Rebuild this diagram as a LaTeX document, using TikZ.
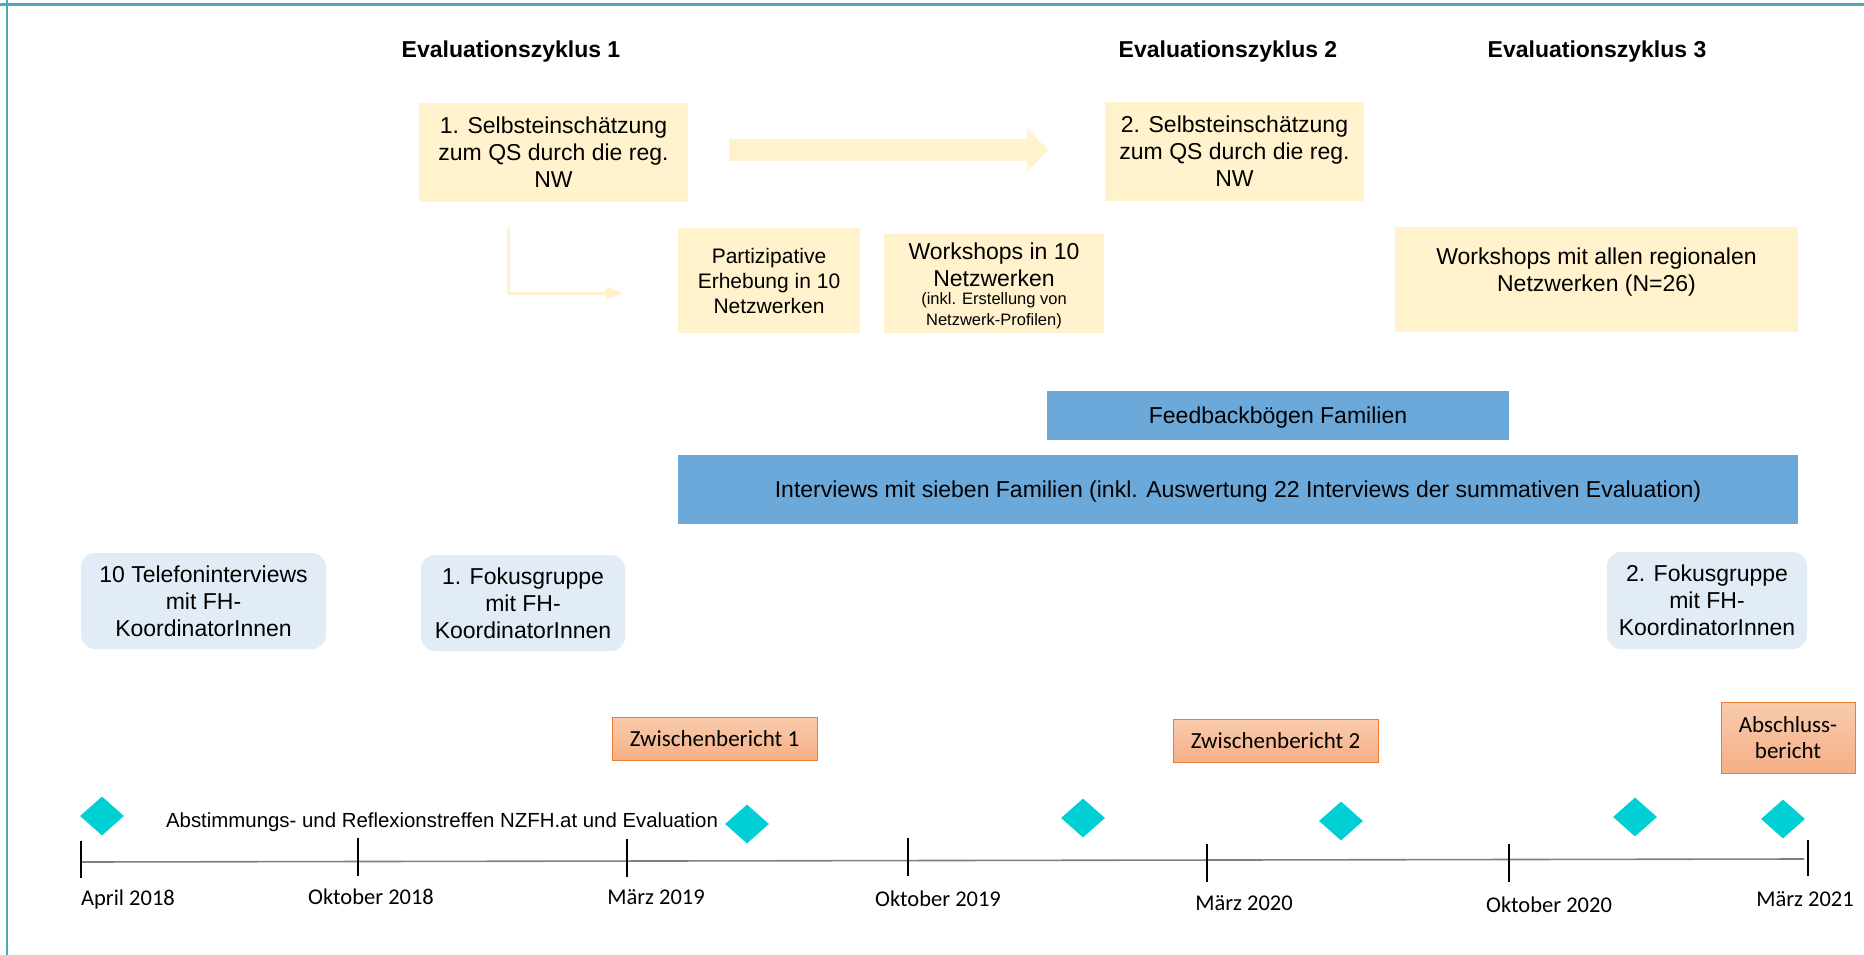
\documentclass[tikz,border=0pt]{standalone}
\usepackage{fontspec}
\setmainfont{Liberation Sans}
\newfontfamily\calibfont{Carlito}
\usetikzlibrary{shapes.geometric,arrows.meta}
\definecolor{ylw}{HTML}{FFF2CC}
\definecolor{blu}{HTML}{6CA9DB}
\definecolor{lblu}{HTML}{E2ECF7}
\definecolor{orT}{HTML}{F9CBAD}
\definecolor{orB}{HTML}{F5AF86}
\definecolor{orD}{HTML}{ED7D31}
\definecolor{turq}{HTML}{00CFD4}
\definecolor{framec}{HTML}{4FA9B9}
\definecolor{axisc}{HTML}{808080}
\begin{document}
\begin{tikzpicture}[x=1pt,y=-1pt,
 txt/.style={font=\fontsize{23}{27}\selectfont, align=center, text=black},
 ybox/.style={txt, fill=ylw, inner sep=0pt},
 bbox/.style={txt, fill=blu, inner sep=0pt},
 rbox/.style={txt, fill=lblu, rounded corners=14pt, inner sep=0pt},
 obox/.style={font=\calibfont\fontsize{23}{26}\selectfont, align=center, top color=orT, bottom color=orB, draw=orD, line width=1pt, inner sep=0pt},
 ttl/.style={font=\bfseries\fontsize{23}{27}\selectfont},
 dia/.style={diamond, fill=turq, inner sep=0pt, minimum width=44pt, minimum height=39pt},
 tickln/.style={line width=2pt, black},
 dlab/.style={font=\calibfont\fontsize{22.5}{26}\selectfont, text=black},
]
\useasboundingbox (0,0) rectangle (1864,955);
\fill[white] (0,0) rectangle (1864,955);
\draw[framec, line width=3pt] (0,5) -- (1864,5);
\draw[framec, line width=2.5pt] (7,0) -- (7,955);

% titles
\node[ttl] (t1) at (511,52) {Evaluationszyklus 1};
\node[ttl] (t2) at (1228,52) {Evaluationszyklus 2};
\node[ttl] (t3) at (1597,52) {Evaluationszyklus 3};

% yellow boxes
\node[ybox, minimum width=269pt, minimum height=99pt] (s1) at (553.5,152.5) {1. Selbsteinschätzung\\zum QS durch die reg.\\NW};
\node[ybox, minimum width=259pt, minimum height=99pt] (s2) at (1234.5,151.5) {2. Selbsteinschätzung\\zum QS durch die reg.\\NW};
\node[ybox, font=\fontsize{21}{25}\selectfont, minimum width=182pt, minimum height=105pt] (part) at (769,280.5) {Partizipative\\Erhebung in 10\\Netzwerken};
\node[ybox, minimum width=220pt, minimum height=99pt] (ws10) at (994,283.5) {};
\node[txt] (ws10a) at (994,264.5) {Workshops in 10\\Netzwerken};
\node[txt, font=\fontsize{16.5}{21}\selectfont] (ws10b) at (994,311) {(inkl. Erstellung von\\Netzwerk-Profilen)};
\node[ybox, minimum width=403pt, minimum height=105pt] (wsall) at (1596.5,279.5) {};
\node[txt] (wsalltxt) at (1596.5,272.5) {Workshops mit allen regionalen\\Netzwerken (N=26)};

% big arrow
\coordinate (ba) at (729,150);
\coordinate (bb) at (1048,150);
\fill[ylw] (ba) ++(0,-11) -- ++(298,0) -- ++(0,-11) -- (bb) -- ++(-21,22) -- ++(0,-11) -- ++(-298,0) -- cycle;

% L arrow
\coordinate (la) at (508,228);
\coordinate (lb) at (624,293);
\draw[ylw, line width=3pt, -{Triangle[length=18pt,width=12pt]}] (la) |- (lb);

% blue bars
\node[bbox, minimum width=462pt, minimum height=49pt] (fb) at (1278,415.5) {};
\node[txt] (fbtxt) at (1278,418) {Feedbackbögen Familien};
\node[bbox, minimum width=1120pt, minimum height=69pt] (iv) at (1238,489.5) {};
\node[txt] (ivtxt) at (1238,492) {Interviews mit sieben Familien (inkl. Auswertung 22 Interviews der summativen Evaluation)};

% light blue rounded boxes
\node[rbox, minimum width=245pt, minimum height=96pt] (tel) at (203.5,601) {10 Telefoninterviews\\mit FH-\\KoordinatorInnen};
\node[rbox, minimum width=204pt, minimum height=96pt] (fok1) at (523,603) {1. Fokusgruppe\\mit FH-\\KoordinatorInnen};
\node[rbox, minimum width=200pt, minimum height=97pt] (fok2) at (1707,600.5) {2. Fokusgruppe\\mit FH-\\KoordinatorInnen};

% reports
\node[obox, minimum width=205pt, minimum height=43pt] (zb1) at (714.5,738.5) {Zwischenbericht 1};
\node[obox, minimum width=205pt, minimum height=43pt] (zb2) at (1275.5,740.5) {Zwischenbericht 2};
\node[obox, minimum width=134pt, minimum height=71pt] (ab) at (1788,737.5) {Abschluss-\\bericht};

% diamonds
\node[dia] (d1) at (102,816) {};
\node[dia] (d2) at (747,824) {};
\node[dia] (d3) at (1083,818) {};
\node[dia] (d4) at (1341,821) {};
\node[dia] (d5) at (1635,817) {};
\node[dia] (d6) at (1783,819) {};
\node[font=\fontsize{20.4}{24}\selectfont] (abst) at (442,822) {Abstimmungs- und Reflexionstreffen NZFH.at und Evaluation};

% timeline
\coordinate (a0) at (81,862);
\coordinate (a1) at (1804,859);
\draw[axisc, line width=1.6pt] (a0) -- (a1);
\coordinate (k1) at (81,841);   \coordinate (k1b) at (81,878);
\coordinate (k2) at (358,838);  \coordinate (k2b) at (358,876);
\coordinate (k3) at (627,839);  \coordinate (k3b) at (627,877);
\coordinate (k4) at (908,838);  \coordinate (k4b) at (908,876);
\coordinate (k5) at (1207,844); \coordinate (k5b) at (1207,882);
\coordinate (k6) at (1509,844); \coordinate (k6b) at (1509,882);
\coordinate (k7) at (1808,840); \coordinate (k7b) at (1808,876);
\foreach \i in {1,...,7} {\draw[tickln] (k\i) -- (k\i b);}

\node[dlab] (l1) at (128,899) {April 2018};
\node[dlab] (l2) at (371,897) {Oktober 2018};
\node[dlab] (l3) at (656,897) {März 2019};
\node[dlab] (l4) at (938,899) {Oktober 2019};
\node[dlab] (l5) at (1244,903) {März 2020};
\node[dlab] (l6) at (1549,905) {Oktober 2020};
\node[dlab] (l7) at (1805,899) {März 2021};
\end{tikzpicture}
\end{document}
